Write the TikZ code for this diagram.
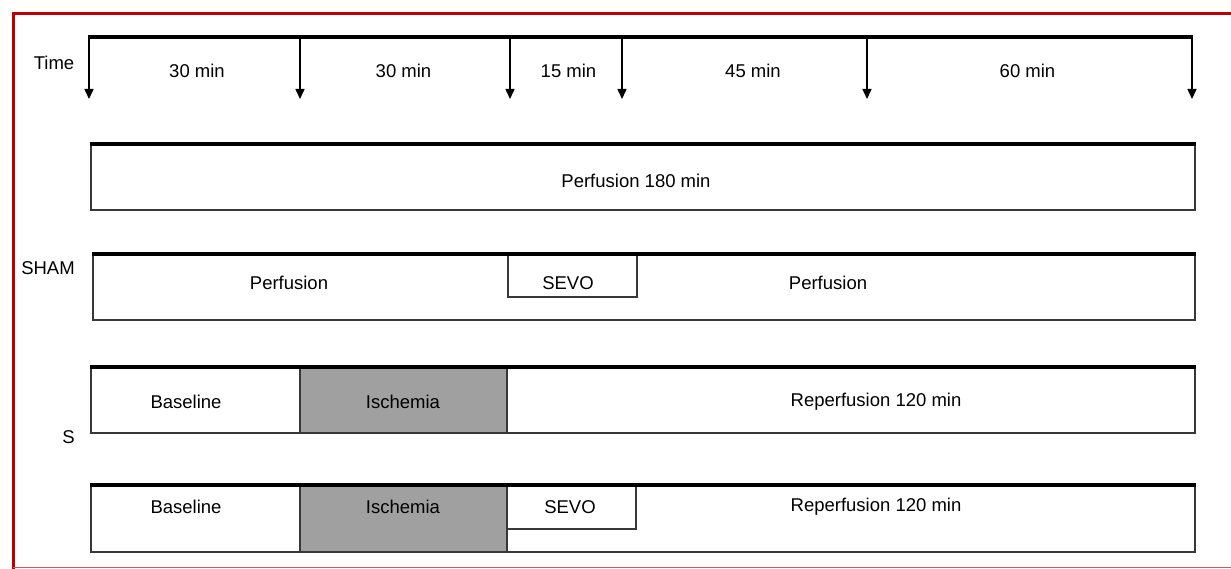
\documentclass[tikz,border=0pt]{standalone}
\usepackage{fontspec}
\setmainfont{Liberation Sans}
\usetikzlibrary{arrows.meta}
\definecolor{frame}{HTML}{C00000}
\definecolor{isch}{HTML}{A0A0A0}
\begin{document}
\begin{tikzpicture}[x=1pt,y=-1pt,
  lbl/.style={font=\fontsize{18.5}{22}\selectfont, inner sep=0pt, anchor=center},
  boxedge/.style={draw=black!78, line width=1.8pt},
  inedge/.style={draw=black!78, line width=1.5pt},
  topedge/.style={draw=black, line width=3.2pt},
  tick/.style={draw=black, line width=1.5pt, -{Triangle[length=10pt,width=9pt]}}]
\useasboundingbox (0,0) rectangle (1231,569);
% frame
\draw[frame, line width=3pt] (1231,13.5) -- (13,13.5) -- (13,569);
\draw[frame!65, line width=1pt] (13,567) -- (1231,567);
% timeline
\foreach \i/\x in {0/89,1/300,2/510,3/622,4/867,5/1192} {
  \coordinate (t\i) at (\x,37);
  \coordinate (b\i) at (\x,99);
}
\draw[line width=3.2pt] ([xshift=-0.75pt]t0) -- ([xshift=0.75pt]t5);
\foreach \i in {0,...,5} {
  \draw[tick] (t\i) -- (b\i);
}
\node[lbl] (time) at (54,62.5) {Time};
\node[lbl] (m1) at (197,71) {30 min};
\node[lbl] (m2) at (403.5,71) {30 min};
\node[lbl] (m3) at (568.5,71) {15 min};
\node[lbl] (m4) at (753,71) {45 min};
\node[lbl] (m5) at (1027.5,71) {60 min};
% box 1
\draw[boxedge] (91,144) rectangle (1195,210);
\draw[topedge] (90,144) -- (1196,144);
\node[lbl] (p180) at (636,180.5) {Perfusion 180 min};
% SHAM
\node[lbl] (sham) at (48,268.5) {SHAM};
\draw[boxedge] (93,254) rectangle (1195,320);
\draw[inedge] (508,254) rectangle (637,297);
\draw[topedge] (92,254) -- (1196,254);
\node[lbl] (pl) at (289,283) {Perfusion};
\node[lbl] (sevo1) at (568,283) {SEVO};
\node[lbl] (pr) at (828,283) {Perfusion};
% S
\node[lbl] (s) at (68.5,437) {S};
\fill[isch] (300,367) rectangle (507,433);
\draw[boxedge] (91,367) rectangle (1195,433);
\draw[inedge] (300,367) -- (300,433) (507,367) -- (507,433);
\draw[topedge] (90,367) -- (1196,367);
\node[lbl] (bl1) at (186,402) {Baseline};
\node[lbl] (is1) at (403,402) {Ischemia};
\node[lbl] (rp1) at (876,401.5) {Reperfusion 120 min};
% S + SEVO
\fill[isch] (300,485) rectangle (507,552);
\draw[boxedge] (91,485) rectangle (1195,552);
\draw[inedge] (300,485) -- (300,552) (507,485) -- (507,552);
\draw[inedge] (507,529) -- (636,529) -- (636,485);
\draw[topedge] (90,485) -- (1196,485);
\node[lbl] (bl2) at (186,507) {Baseline};
\node[lbl] (is2) at (403,507) {Ischemia};
\node[lbl] (sevo2) at (570,507) {SEVO};
\node[lbl] (rp2) at (876,507) {Reperfusion 120 min};
\end{tikzpicture}
\end{document}
